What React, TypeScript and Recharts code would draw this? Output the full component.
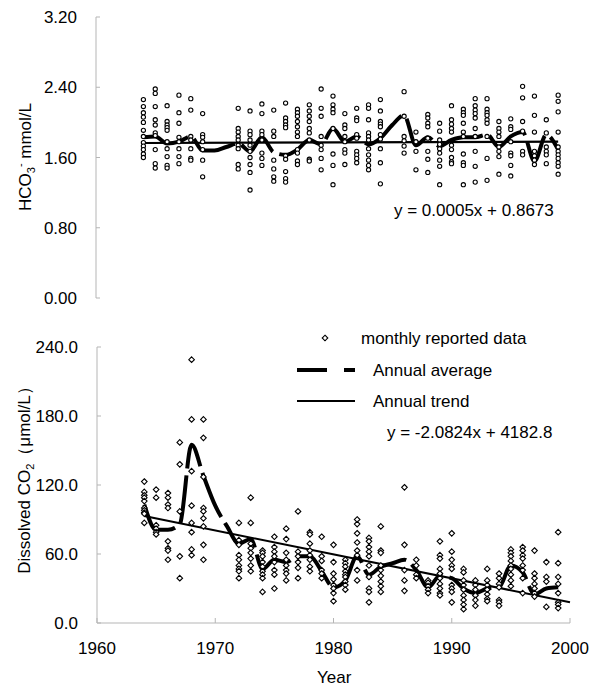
import React from 'react'
import { ComposedChart, Scatter, Line, XAxis, YAxis } from 'recharts'

// ---- HCO3- (top panel) ----
const hco3Years = [
  1964, 1965, 1966, 1967, 1968, 1969, 1972, 1973, 1974, 1975, 1976, 1977, 1978, 1979, 1980, 1981,
  1982, 1983, 1984, 1986, 1987, 1988, 1989, 1990, 1991, 1992, 1993, 1994, 1995, 1996, 1997, 1998, 1999,
]
const hco3Monthly = [
  [2.26, 2.18, 2.11, 2.06, 2.0, 1.91, 1.84, 1.77, 1.73, 1.69, 1.64, 1.6],
  [2.38, 2.33, 2.18, 2.03, 1.97, 1.88, 1.85, 1.69, 1.53, 1.48],
  [2.19, 2.01, 1.97, 1.94, 1.91, 1.78, 1.7, 1.61, 1.51, 1.48],
  [2.31, 2.11, 1.99, 1.83, 1.78, 1.7, 1.61, 1.53],
  [2.27, 2.14, 1.84, 1.8, 1.7, 1.59, 1.57],
  [2.1, 1.86, 1.83, 1.78, 1.69, 1.57, 1.38],
  [2.16, 1.93, 1.89, 1.84, 1.8, 1.74, 1.7, 1.52, 1.47],
  [2.13, 1.9, 1.86, 1.8, 1.74, 1.67, 1.6, 1.52, 1.43, 1.23],
  [2.21, 2.1, 1.9, 1.86, 1.8, 1.65, 1.59, 1.51],
  [2.14, 1.9, 1.84, 1.57, 1.47, 1.38, 1.33],
  [2.22, 2.05, 2.01, 1.97, 1.94, 1.62, 1.58, 1.44, 1.36, 1.32],
  [2.15, 2.11, 2.07, 2.01, 1.95, 1.89, 1.84, 1.69, 1.65, 1.56, 1.52],
  [2.2, 2.13, 2.07, 2.01, 1.93, 1.88, 1.8, 1.58, 1.56],
  [2.38, 2.16, 2.07, 1.84, 1.74, 1.69, 1.59, 1.46],
  [2.3, 2.2, 2.15, 2.11, 1.93, 1.64, 1.51, 1.29],
  [2.1, 1.97, 1.93, 1.84, 1.78, 1.69, 1.65, 1.52],
  [2.16, 2.05, 2.02, 1.86, 1.82, 1.67, 1.63, 1.59, 1.54],
  [2.2, 2.16, 2.03, 1.88, 1.84, 1.8, 1.7, 1.63, 1.57, 1.51, 1.46],
  [2.26, 2.13, 2.01, 1.98, 1.95, 1.86, 1.81, 1.7, 1.54, 1.3],
  [2.35, 2.07, 1.84, 1.79, 1.73, 1.65],
  [1.89, 1.78, 1.67, 1.46],
  [2.09, 2.05, 1.99, 1.95, 1.82, 1.67, 1.58, 1.43],
  [1.99, 1.9, 1.8, 1.75, 1.7, 1.65, 1.57, 1.5, 1.29],
  [2.19, 2.03, 1.98, 1.93, 1.89, 1.74, 1.69, 1.6, 1.55, 1.53],
  [2.15, 2.11, 2.08, 1.99, 1.89, 1.84, 1.64, 1.54, 1.51, 1.29],
  [2.27, 2.19, 2.14, 2.1, 2.05, 1.93, 1.84, 1.67, 1.5, 1.32],
  [2.27, 2.15, 2.11, 2.08, 2.03, 1.99, 1.84, 1.59, 1.34],
  [2.01, 1.93, 1.89, 1.84, 1.72, 1.67, 1.61, 1.41],
  [2.04, 1.95, 1.92, 1.78, 1.65, 1.62, 1.51, 1.39],
  [2.41, 2.28, 2.01, 1.9, 1.67, 1.63],
  [2.3, 2.08, 1.89, 1.67, 1.62, 1.57, 1.52],
  [2.03, 1.88, 1.72, 1.67, 1.63, 1.53],
  [2.31, 2.24, 2.12, 1.89, 1.72, 1.67, 1.63, 1.59, 1.54, 1.5, 1.41],
]
const avgYears = [
  1964, 1965, 1966, 1967, 1968, 1969, 1970, 1971, 1972, 1973, 1974, 1975, 1976, 1977, 1978, 1979, 1980, 1981,
  1982, 1983, 1984, 1985, 1986, 1987, 1988, 1989, 1990, 1991, 1992, 1993, 1994, 1995, 1996, 1997, 1998, 1999,
]
const hco3Annual = [
  1.83, 1.84, 1.76, 1.78, 1.84, 1.68, 1.68, 1.72, 1.76, 1.67, 1.83, 1.66, 1.63, 1.69, 1.8, 1.75, 1.93, 1.78,
  1.84, 1.75, 1.82, 1.97, 2.08, 1.74, 1.83, 1.73, 1.8, 1.83, 1.83, 1.86, 1.72, 1.84, 1.89, 1.56, 1.86, 1.69,
]
const hco3TrendYears = [1964, 1999]
const hco3Trend = [1.765, 1.78]
const hco3Ticks = [0, 0.8, 1.6, 2.4, 3.2]

// ---- Dissolved CO2 (bottom panel) ----
const co2Years = [
  1964, 1965, 1966, 1967, 1968, 1969, 1972, 1973, 1974, 1975, 1976, 1977, 1978, 1979, 1980, 1981,
  1982, 1983, 1984, 1986, 1987, 1988, 1989, 1990, 1991, 1992, 1993, 1994, 1995, 1996, 1997, 1998, 1999,
]
const co2Monthly = [
  [123, 114, 111, 109, 106, 100, 98, 96, 95, 87],
  [116, 109, 85, 82, 79, 77],
  [113, 109, 103, 100, 71, 65, 63, 55],
  [157, 138, 97, 58, 39],
  [229, 177, 132, 102, 87, 79, 64, 59],
  [177, 161, 127, 100, 97, 91, 84, 68, 55],
  [87, 72, 68, 59, 55, 50, 47, 45, 39],
  [109, 87, 69, 65, 61, 56, 50, 45],
  [63, 61, 58, 53, 49, 45, 42, 39, 27],
  [75, 66, 62, 58, 53, 46, 42, 30],
  [82, 73, 61, 55, 50, 46, 43, 37],
  [97, 62, 58, 53, 48, 39],
  [79, 77, 69, 63, 59, 55, 49, 45],
  [75, 58, 54, 46, 43, 39],
  [68, 53, 43, 38, 33, 30, 26, 19],
  [55, 52, 49, 45, 42, 40, 36, 33, 29],
  [90, 86, 78, 70, 63, 59, 46, 37],
  [74, 71, 66, 62, 58, 50, 40, 30, 27, 18],
  [84, 63, 61, 50, 46, 41, 36, 32, 27],
  [118, 68, 46, 37, 28],
  [55, 50, 42, 39],
  [37, 35, 32, 29, 26],
  [71, 59, 56, 47, 43, 39, 34, 30, 26, 24],
  [78, 62, 55, 50, 47, 33, 30, 27, 18],
  [47, 44, 37, 33, 29, 24, 20, 16, 12],
  [37, 33, 29, 24, 20, 15],
  [47, 37, 33, 29, 25, 21, 19],
  [43, 39, 34, 31, 20, 18, 15],
  [64, 61, 58, 54, 50, 47, 42, 37, 32],
  [66, 63, 59, 56, 50, 46, 39, 26],
  [63, 43, 39, 34, 30, 26, 23],
  [53, 40, 36, 14],
  [79, 52, 40, 34, 26, 18, 16, 13],
]
const co2Annual = [
  103, 81, 81, 86, 155, 128, 102, 84, 69, 73, 47, 55, 53, 58, 58, 45, 31, 37,
  58, 42, 49, 52, 55, 46, 31, 41, 39, 30, 26, 30, 31, 50, 44, 25, 30, 31,
]
const co2TrendYears = [1964, 2000]
const co2Trend = [93.0, 18.0]
const co2Ticks = [0, 60, 120, 180, 240]
const yearTicks = [1960, 1970, 1980, 1990, 2000]

const FONT = 'Arial, "Liberation Sans", sans-serif'
const AXIS = '#b5b5b5'
const DASH = '48 7'
const FS = 17

const toPoints = (years: number[], vals: number[][]) =>
  years.flatMap((year, i) => vals[i].map((v) => ({ year, v })))
const toSeries = (years: number[], vals: number[]) => years.map((year, i) => ({ year, v: vals[i] }))

const circleShape = (p: any) => (
  <circle cx={p.cx} cy={p.cy} r={2.1} fill="#fff" stroke="#000" strokeWidth={1.1} />
)
const diamondShape = (p: any) => (
  <polygon
    points={`${p.cx},${p.cy - 2.8} ${p.cx + 2.8},${p.cy} ${p.cx},${p.cy + 2.8} ${p.cx - 2.8},${p.cy}`}
    fill="#fff"
    stroke="#000"
    strokeWidth={1.1}
  />
)

const Y_MARGIN = 18
const makeYTick = (digits: number) => (props: any) => {
  const { x, y, payload } = props
  const ax = x + Y_MARGIN
  return (
    <g>
      <line x1={ax} x2={ax + 4} y1={y} y2={y} stroke={AXIS} />
      <text x={ax - 19} y={y + 6} textAnchor="end" fontSize={FS} fontFamily={FONT} fill="#000">
        {payload.value.toFixed(digits)}
      </text>
    </g>
  )
}

const X_MARGIN = 10
const xTick = (props: any) => {
  const { x, y, payload } = props
  const ay = y - X_MARGIN
  return (
    <g>
      <line x1={x} x2={x} y1={ay} y2={ay - 5} stroke={AXIS} />
      <text x={x} y={ay + 31} textAnchor="middle" fontSize={FS} fontFamily={FONT} fill="#000">
        {payload.value}
      </text>
    </g>
  )
}

const abs = (style: React.CSSProperties): React.CSSProperties => ({
  position: 'absolute',
  fontFamily: FONT,
  fontSize: FS,
  color: '#000',
  whiteSpace: 'nowrap',
  lineHeight: 1,
  ...style,
})

export default function App() {
  const hco3Points = toPoints(hco3Years, hco3Monthly)
  const co2Points = toPoints(co2Years, co2Monthly)

  return (
    <div style={{ position: 'absolute', left: 0, top: 0, width: 600, height: 690, background: '#fff' }}>
      <div style={{ position: 'absolute', left: 0, top: 0 }}>
        <ComposedChart width={600} height={320} margin={{ top: 17, right: 30, left: 36, bottom: 22 }}>
          <XAxis dataKey="year" type="number" domain={[1960, 2000]} hide />
          <YAxis
            type="number"
            domain={[0, 3.2]}
            ticks={hco3Ticks}
            width={60}
            stroke={AXIS}
            tickLine={false}
            tickSize={0}
            tickMargin={Y_MARGIN}
            tick={makeYTick(2)}
          />
          <Scatter data={hco3Points} dataKey="v" shape={circleShape} isAnimationActive={false} />
          <Line
            data={toSeries(avgYears, hco3Annual)}
            dataKey="v"
            type="monotone"
            stroke="#000"
            strokeWidth={4}
            strokeDasharray={DASH}
            dot={false}
            isAnimationActive={false}
          />
          <Line
            data={toSeries(hco3TrendYears, hco3Trend)}
            dataKey="v"
            type="linear"
            stroke="#000"
            strokeWidth={2.2}
            dot={false}
            isAnimationActive={false}
          />
        </ComposedChart>
      </div>

      <div style={{ position: 'absolute', left: 0, top: 320 }}>
        <ComposedChart width={600} height={370} margin={{ top: 27, right: 30, left: 37, bottom: 37 }}>
          <XAxis
            dataKey="year"
            type="number"
            domain={[1960, 2000]}
            ticks={yearTicks}
            height={30}
            stroke={AXIS}
            tickLine={false}
            tickSize={0}
            tickMargin={X_MARGIN}
            tick={xTick}
          />
          <YAxis
            type="number"
            domain={[0, 240]}
            ticks={co2Ticks}
            width={60}
            stroke={AXIS}
            tickLine={false}
            tickSize={0}
            tickMargin={Y_MARGIN}
            tick={makeYTick(1)}
          />
          <Scatter data={co2Points} dataKey="v" shape={diamondShape} isAnimationActive={false} />
          <Line
            data={toSeries(avgYears, co2Annual)}
            dataKey="v"
            type="monotone"
            stroke="#000"
            strokeWidth={4}
            strokeDasharray={DASH}
            dot={false}
            isAnimationActive={false}
          />
          <Line
            data={toSeries(co2TrendYears, co2Trend)}
            dataKey="v"
            type="linear"
            stroke="#000"
            strokeWidth={2}
            dot={false}
            isAnimationActive={false}
          />
        </ComposedChart>
      </div>

      {/* axis titles */}
      <div style={abs({ left: 26, top: 157, transform: 'translate(-50%, -50%) rotate(-90deg)' })}>
        HCO<sub style={{ fontSize: 11 }}>3</sub>
        <sup style={{ fontSize: 11 }}>-</sup> mmol/L
      </div>
      <div style={abs({ left: 26, top: 476, transform: 'translate(-50%, -50%) rotate(-90deg)' })}>
        Dissolved CO<sub style={{ fontSize: 11 }}>2</sub>（μmol/L）
      </div>
      <div style={abs({ left: 317, top: 669 })}>Year</div>

      {/* equations */}
      <div style={abs({ left: 394, top: 202 })}>y = 0.0005x + 0.8673</div>
      <div style={abs({ left: 387, top: 424 })}>y = -2.0824x + 4182.8</div>

      {/* legend */}
      <svg style={{ position: 'absolute', left: 290, top: 328 }} width={70} height={85}>
        <polygon points="35,7.2 37.8,10 35,12.8 32.2,10" fill="#fff" stroke="#000" strokeWidth={1.1} />
        <line x1={7} x2={65} y1={42} y2={42} stroke="#000" strokeWidth={4} strokeDasharray="30 17" />
        <line x1={7} x2={65} y1={73} y2={73} stroke="#000" strokeWidth={2} />
      </svg>
      <div style={abs({ left: 361, top: 330 })}>monthly reported data</div>
      <div style={abs({ left: 373, top: 362 })}>Annual average</div>
      <div style={abs({ left: 373, top: 393 })}>Annual trend</div>
    </div>
  )
}
